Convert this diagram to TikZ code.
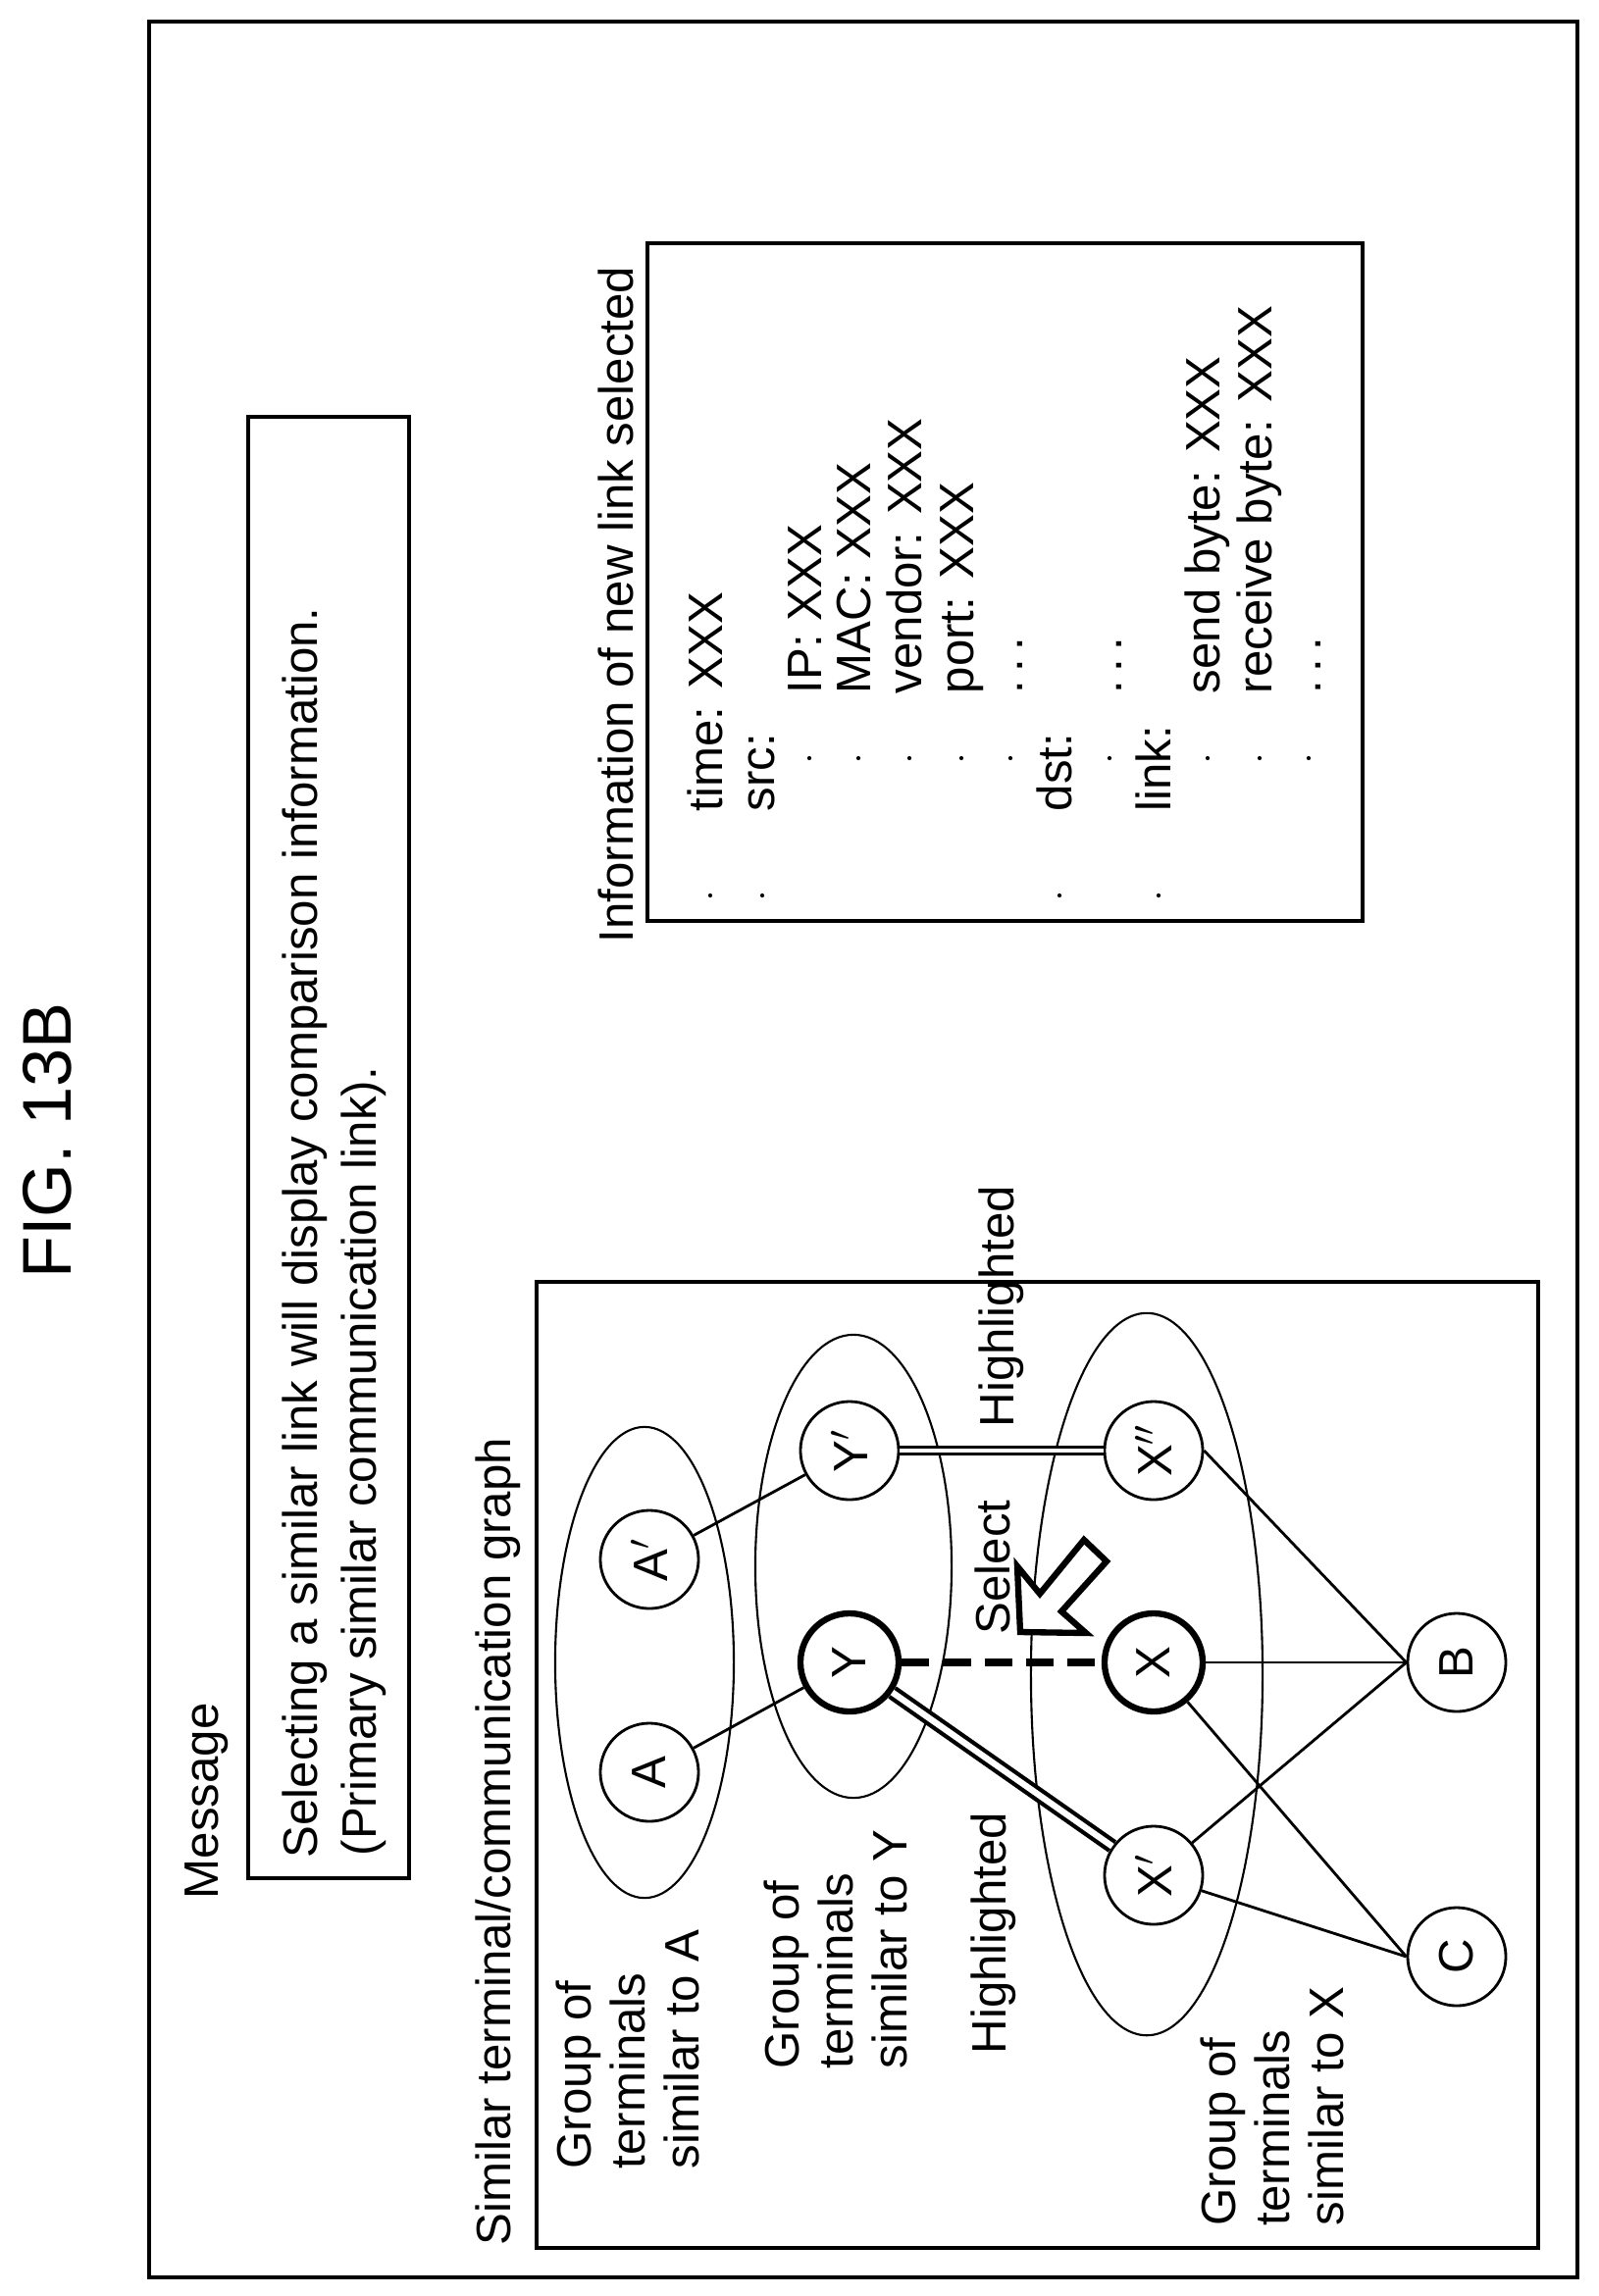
\documentclass[tikz,border=0pt]{standalone}
\usepackage{fontspec}
\setmainfont{Liberation Sans}
\usetikzlibrary{positioning}
\usetikzlibrary{shapes.geometric}
\tikzset{
  frame/.style={draw, line width=1.2pt},
  term/.style={circle, draw, line width=0.8pt, minimum size=1.0cm, inner sep=0pt, font=\fontsize{14}{16}\selectfont},
  sel/.style={term, line width=1.8pt},
  lbl/.style={rotate=90, anchor=base west, inner sep=0pt, font=\fontsize{14}{15.6}\selectfont},
  blk/.style={rotate=90, anchor=north west, inner sep=0pt, align=left, font=\fontsize{14}{15.6}\selectfont},
  grp/.style={ellipse, draw, line width=0.6pt},
  link/.style={draw, line width=0.8pt},
  hilite/.style={draw, double, line width=0.9pt, double distance=1.3pt},
  bul/.style={circle, fill, inner sep=0pt, minimum size=1.2pt}
}
\newcommand{\etc}{.\,.\,.}
\begin{document}
\begin{tikzpicture}[x=0.01cm, y=-0.01cm]
    \useasboundingbox (0,0) rectangle (1629,2341);
    \draw [frame] (152,22) rectangle (1608,2322);
    \node [lbl, anchor=base, font=\fontsize{20}{24}\selectfont] (fig) at (72,1163) {FIG. 13B};
    % message
    \node [lbl] (msg) at (222,1937) {Message};
    \draw [frame] (253,425) rectangle (417,1915);
    \node [lbl] (msg1) at (323,1895) {Selecting a similar link will display comparison information.};
    \node [lbl] (msg2) at (383,1893) {(Primary similar communication link).};
    % link information
    \node [lbl] (info) at (645,962) {Information of new link selected};
    \draw [frame] (660,248) rectangle (1389,939);
    \foreach \x/\t in {736/time: XXX, 789/src:, 1092/dst:, 1193/link:} {
        \node [bul] at (\x-12,913) {};
        \node [lbl] at (\x,828) {\t};
    }
    \foreach \x/\t in {837/IP: XXX, 887/MAC: XXX, 939/vendor: XXX, 992/port: XXX, 1042/\etc, 1143/\etc, 1243/send byte: XXX, 1296/receive byte: XXX, 1346/\etc} {
        \node [bul] at (\x-12,773) {};
        \node [lbl] at (\x,708) {\t};
    }
    % graph
    \node [lbl] (gtitle) at (520,2290) {Similar terminal/communication graph};
    \draw [frame] (547,1307) rectangle (1568,2292);
    \node [grp, minimum width=1.82cm, minimum height=4.8cm] (gA) at (657,1695) {};
    \node [grp, minimum width=2.0cm, minimum height=4.72cm] (gY) at (870,1597) {};
    \node [grp, minimum width=2.36cm, minimum height=7.36cm] (gX) at (1169,1707) {};
    \node [term] (A) at (662,1807) {\rotatebox{90}{A}};
    \node [term] (A1) at (662,1590) {\rotatebox{90}{A$'$}};
    \node [sel] (Y) at (866,1695) {\rotatebox{90}{Y}};
    \node [term] (Y1) at (866,1479) {\rotatebox{90}{Y$'$}};
    \node [sel] (X) at (1176,1695) {\rotatebox{90}{X}};
    \node [term] (X1) at (1176,1912) {\rotatebox{90}{X$'$}};
    \node [term] (X2) at (1176,1479) {\rotatebox{90}{X$''$}};
    \node [term] (B) at (1485,1695) {\rotatebox{90}{B}};
    \node [term] (C) at (1485,1995) {\rotatebox{90}{C}};
    \node [blk] (lA) at (566,2212) {Group of\\terminals\\similar to A};
    \node [blk] (lY) at (778,2110) {Group of\\terminals\\similar to Y};
    \node [blk] (lX) at (1223,2270) {Group of\\terminals\\similar to X};
    \node [lbl] (hl1) at (1025,2095) {Highlighted};
    \node [lbl] (hl2) at (1033,1456) {Highlighted};
    \node [lbl] (slct) at (1029,1667) {Select};
    \path [link] (A) -- (Y);
    \path [link] (A1) -- (Y1);
    \path [link] (X2.east) -- (B.west);
    \path [link] (X) -- (B.west);
    \path [link] (X1) -- (B.west);
    \path [link] (X) -- (C.west);
    \path [link] (X1) -- (C.west);
    \path [hilite] (Y1) -- (X2);
    \path [hilite, line width=1.2pt, double distance=1.8pt] (Y) -- (X1);
    \draw [line width=2.2pt, dash pattern=on 8pt off 4pt] (Y.east) -- (X.west);
    % select arrow
    \draw [line width=1.8pt, fill=white, line join=miter]
        (1040,1664) -- (1037,1597) -- (1060,1625) -- (1105,1570) -- (1128,1592)
        -- (1082,1643) -- (1107,1665) -- cycle;
\end{tikzpicture}
\end{document}
